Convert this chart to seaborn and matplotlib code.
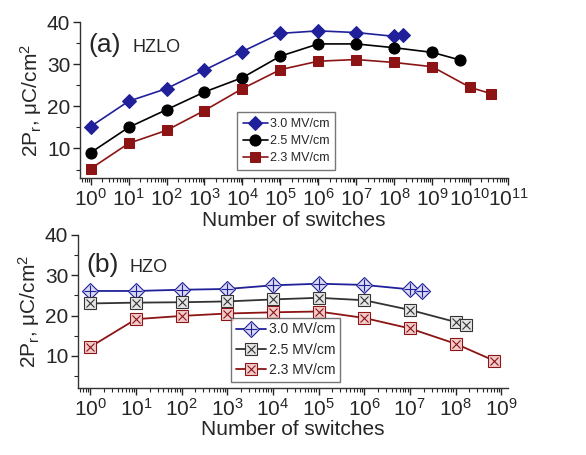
import matplotlib
matplotlib.use("Agg")
import matplotlib.pyplot as plt
import matplotlib.ticker as mticker
import numpy as np
import seaborn as sns

# data (x = number of switches, y = 2Pr in uC/cm^2)
hzlo_x30 = [1, 1e1, 1e2, 1e3, 1e4, 1e5, 1e6, 1e7, 1e8, 1.7e8]
hzlo_y30 = [15.2, 21.2, 24.2, 28.6, 33.0, 37.3, 37.9, 37.5, 36.6, 36.9]
hzlo_x25 = [1, 1e1, 1e2, 1e3, 1e4, 1e5, 1e6, 1e7, 1e8, 1e9, 5.4e9]
hzlo_y25 = [9.0, 15.0, 19.2, 23.4, 26.8, 31.9, 34.8, 34.8, 33.9, 32.8, 31.0]
hzlo_x23 = [1, 1e1, 1e2, 1e3, 1e4, 1e5, 1e6, 1e7, 1e8, 1e9, 1e10, 3.6e10]
hzlo_y23 = [5.2, 11.2, 14.3, 19.0, 24.2, 28.7, 30.7, 31.1, 30.4, 29.4, 24.5, 23.0]

hzo_x30 = [1, 1e1, 1e2, 1e3, 1e4, 1e5, 1e6, 1e7, 1.8e7]
hzo_y30 = [26.1, 26.1, 26.4, 26.6, 27.5, 27.9, 27.6, 26.5, 26.1]
hzo_x25 = [1, 1e1, 1e2, 1e3, 1e4, 1e5, 1e6, 1e7, 1e8, 1.7e8]
hzo_y25 = [23.0, 23.2, 23.3, 23.5, 24.0, 24.4, 23.8, 21.4, 18.4, 17.7]
hzo_x23 = [1, 1e1, 1e2, 1e3, 1e4, 1e5, 1e6, 1e7, 1e8, 7e8]
hzo_y23 = [12.2, 19.1, 19.9, 20.5, 20.8, 21.0, 19.4, 16.8, 13.0, 8.8]

labels = ["3.0 MV/cm", "2.5 MV/cm", "2.3 MV/cm"]

sns.set_theme(style="ticks")
plt.rcParams["font.family"] = ["Liberation Sans", "DejaVu Sans"]
plt.rcParams["mathtext.fontset"] = "custom"
plt.rcParams["mathtext.rm"] = "Liberation Sans"
plt.rcParams["mathtext.it"] = "Liberation Sans"

fig = plt.figure(figsize=(5.86, 4.55), dpi=100)
ax1 = fig.add_axes([80 / 586, 1 - 178 / 455, 428 / 586, 156 / 455])
ax2 = fig.add_axes([78 / 586, 1 - 388 / 455, 430 / 586, 153 / 455])

blue = "#20209a"
red = "#8c1414"

# (a) HZLO - filled markers
sns.lineplot(x=hzlo_x30, y=hzlo_y30, ax=ax1, color=blue, marker="D", markersize=7,
             markeredgecolor=blue, lw=1.2, label=labels[0], sort=False)
sns.lineplot(x=hzlo_x25, y=hzlo_y25, ax=ax1, color="black", marker="o", markersize=8,
             markeredgecolor="black", lw=1.2, label=labels[1], sort=False)
sns.lineplot(x=hzlo_x23, y=hzlo_y23, ax=ax1, color=red, marker="s", markersize=7,
             markeredgecolor=red, lw=1.2, label=labels[2], sort=False)

# (b) HZO - open markers with a cross inside
styles = [(hzo_x30, hzo_y30, blue, "#d9d9f2", "D", "+"),
          (hzo_x25, hzo_y25, "#333333", "#e6e6e6", "s", "x"),
          (hzo_x23, hzo_y23, red, "#f2cccc", "s", "x")]
handles = []
for (xs, ys, c, fc, m, inner), lab in zip(styles, labels):
    sns.lineplot(x=xs, y=ys, ax=ax2, color=c, marker=m, markersize=8,
                 markerfacecolor=fc, markeredgecolor=c, markeredgewidth=0.8,
                 lw=1.3, sort=False)
    ln = ax2.lines[-1]
    ov, = ax2.plot(xs, ys, ls="none", marker=inner, markersize=6 if inner == "x" else 8,
                   color=c, markeredgewidth=0.8)
    handles.append((ln, ov))
ax2.legend(handles, labels, loc="upper left", bbox_to_anchor=(0.355, 0.46),
           fontsize=10, frameon=True, fancybox=False, edgecolor="#555555",
           handlelength=2.2, handletextpad=0.2, borderpad=0.35, labelspacing=0.45,
           borderaxespad=0)

ax1.legend(loc="upper left", bbox_to_anchor=(0.367, 0.42), fontsize=9, frameon=True,
           fancybox=False, edgecolor="#555555", handlelength=2.0, handletextpad=0.2,
           borderpad=0.45, labelspacing=0.4, borderaxespad=0)

for ax, xlim, ylim, top_dec in [(ax1, (10 ** -0.28, 10 ** 11), (3, 40), 11),
                                 (ax2, (10 ** -0.27, 10 ** 9.15), (2, 40), 9)]:
    ax.set_xscale("log")
    ax.set_xlim(*xlim)
    ax.set_ylim(*ylim)
    ax.xaxis.set_major_locator(mticker.FixedLocator([10.0 ** k for k in range(top_dec + 1)]))
    ax.xaxis.set_minor_locator(mticker.LogLocator(base=10, subs=np.arange(2, 10), numticks=30))
    ax.xaxis.set_minor_formatter(mticker.NullFormatter())
    ax.yaxis.set_major_locator(mticker.MultipleLocator(10))
    ax.yaxis.set_minor_locator(mticker.MultipleLocator(5))
    ax.tick_params(which="major", direction="out", length=5, width=1, labelsize=15, pad=2)
    ax.tick_params(which="minor", direction="out", length=3, width=0.8)
    for s in ["top", "right"]:
        ax.spines[s].set_visible(False)
    for s in ["left", "bottom"]:
        ax.spines[s].set_linewidth(1)
        ax.spines[s].set_color("#333333")
    ax.set_ylabel("2P$_r$, μC/cm$^2$", fontsize=15, labelpad=2)
ax1.set_xlabel("Number of switches", fontsize=15, labelpad=1)
ax2.set_xlabel("Number of switches", fontsize=15, labelpad=0)

ax1.text(0.019, 0.81, "(a)", transform=ax1.transAxes, fontsize=19, va="baseline", ha="left")
ax1.text(0.122, 0.81, "HZLO", transform=ax1.transAxes, fontsize=13, va="baseline", ha="left")
ax2.text(0.02, 0.76, "(b)", transform=ax2.transAxes, fontsize=19, va="baseline", ha="left")
ax2.text(0.12, 0.76, "HZO", transform=ax2.transAxes, fontsize=13, va="baseline", ha="left")

fig.savefig("out.png", dpi=100)
